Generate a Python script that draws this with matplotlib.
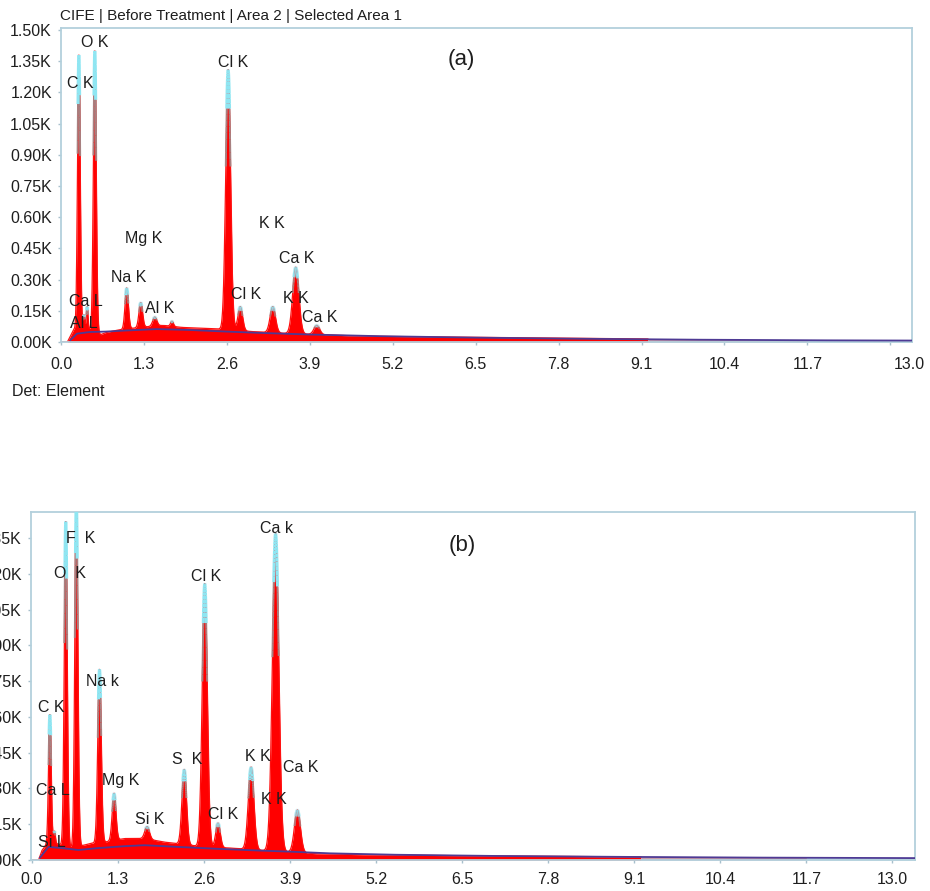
import numpy as np
import matplotlib
matplotlib.use("Agg")
import matplotlib.pyplot as plt
import matplotlib.transforms as mtransforms
from matplotlib.collections import LineCollection

plt.rcParams['font.family'] = ['Liberation Sans', 'DejaVu Sans']

# ---------------- axis data ----------------
x_ticks = [0.0, 1.3, 2.6, 3.9, 5.2, 6.5, 7.8, 9.1, 10.4, 11.7, 13.0]
x_tick_labels = ["0.0", "1.3", "2.6", "3.9", "5.2", "6.5", "7.8", "9.1", "10.4", "11.7", "13.0"]
y_ticks_a = [0.0, 0.15, 0.30, 0.45, 0.60, 0.75, 0.90, 1.05, 1.20, 1.35, 1.50]
y_tick_labels_a = ["0.00K", "0.15K", "0.30K", "0.45K", "0.60K", "0.75K", "0.90K", "1.05K", "1.20K", "1.35K", "1.50K"]
y_ticks_b = [0.0, 0.15, 0.30, 0.45, 0.60, 0.75, 0.90, 1.05, 1.20, 1.35]
y_tick_labels_b = ["0.00K", "0.15K", "0.30K", "0.45K", "0.60K", "0.75K", "0.90K", "1.05K", "1.20K", "1.35K"]

# ---------------- panel (a): before treatment ----------------
a_peak_energy = [0.28, 0.36, 0.41, 0.53, 1.03, 1.25, 1.47, 1.74, 2.62, 2.81, 3.32, 3.68, 4.01]
a_peak_top    = [1.38, 0.13, 0.17, 1.40, 0.26, 0.19, 0.12, 0.10, 1.31, 0.17, 0.17, 0.36, 0.08]
a_peak_sigma  = [0.021, 0.013, 0.013, 0.022, 0.026, 0.028, 0.032, 0.022, 0.038, 0.036, 0.042, 0.048, 0.045]
a_bg_energy = [0.10, 0.15, 0.20, 0.30, 0.55, 0.62, 0.70, 0.85, 1.0, 1.3, 1.6, 1.9, 2.2, 2.5, 2.8, 3.0, 3.5, 4.0, 4.5, 5.0, 6.0, 7.0, 8.0, 9.0, 10.0, 11.0, 12.0, 13.34]
a_bg_counts = [0.0, 0.03, 0.06, 0.065, 0.06, 0.035, 0.045, 0.055, 0.062, 0.072, 0.08, 0.07, 0.066, 0.062, 0.055, 0.05, 0.042, 0.036, 0.03, 0.027, 0.024, 0.021, 0.018, 0.015, 0.013, 0.011, 0.009, 0.008]
a_fit_energy = [0.15, 0.25, 0.45, 0.7, 1.0, 1.5, 2.0, 2.6, 3.2, 3.9, 5.0, 6.5, 8.0, 10.0, 12.0, 13.34]
a_fit_counts = [0.01, 0.04, 0.048, 0.05, 0.055, 0.062, 0.058, 0.05, 0.043, 0.036, 0.028, 0.021, 0.016, 0.011, 0.008, 0.007]
a_labels = ["O K", "C K", "Cl K", "Mg K", "K K", "Na K", "Ca K", "Ca L", "Cl K", "Al K", "K K", "Ca K", "Al L"]
a_label_pos = [(0.53, 1.44), (0.30, 1.245), (2.70, 1.346), (1.29, 0.50), (3.31, 0.572), (1.06, 0.3125),
               (3.70, 0.40), (0.39, 0.197), (2.90, 0.23), (1.55, 0.163), (3.68, 0.21), (4.06, 0.12), (0.36, 0.087)]

# ---------------- panel (b): after treatment ----------------
b_peak_energy = [0.27, 0.34, 0.51, 0.67, 1.02, 1.24, 1.74, 2.30, 2.61, 2.81, 3.31, 3.68, 4.01]
b_peak_top    = [0.61, 0.12, 1.42, 1.50, 0.80, 0.28, 0.14, 0.38, 1.16, 0.155, 0.39, 1.37, 0.21]
b_peak_sigma  = [0.02, 0.013, 0.022, 0.023, 0.026, 0.028, 0.035, 0.034, 0.038, 0.034, 0.042, 0.048, 0.045]
b_bg_energy = [0.10, 0.15, 0.22, 0.35, 0.50, 0.62, 0.75, 0.9, 1.1, 1.4, 1.7, 2.0, 2.3, 2.6, 3.0, 3.5, 4.0, 4.3, 5.0, 6.0, 7.0, 8.0, 9.0, 10.0, 11.0, 12.0, 13.34]
b_bg_counts = [0.0, 0.04, 0.065, 0.07, 0.06, 0.05, 0.06, 0.07, 0.075, 0.09, 0.09, 0.075, 0.065, 0.055, 0.05, 0.04, 0.032, 0.026, 0.022, 0.019, 0.017, 0.015, 0.013, 0.012, 0.011, 0.01, 0.009]
b_fit_energy = [0.12, 0.25, 0.45, 0.7, 1.0, 1.4, 1.7, 2.2, 2.8, 3.4, 3.9, 4.5, 5.5, 7.0, 9.0, 11.0, 13.34]
b_fit_counts = [0.01, 0.055, 0.05, 0.042, 0.05, 0.058, 0.062, 0.055, 0.047, 0.04, 0.035, 0.028, 0.022, 0.017, 0.013, 0.01, 0.008]
b_labels = ["F  K", "O  K", "Cl K", "Ca k", "Na k", "C K", "Ca L", "Mg K", "Si K", "S  K", "Cl K", "K K", "Ca K", "K K", "Si L"]
b_label_pos = [(0.74, 1.35), (0.574, 1.20), (2.63, 1.19), (3.69, 1.39), (1.07, 0.75), (0.29, 0.64), (0.317, 0.29),
               (1.34, 0.335), (1.78, 0.17), (2.34, 0.42), (2.89, 0.19), (3.41, 0.435), (4.06, 0.39), (3.66, 0.255), (0.30, 0.075)]

XMAX = 13.34
FRAME = '#b3d0dc'
TXT = '#1e1e1e'


def draw_spectrum(ax, bg_e, bg_c, pk_e, pk_top, pk_sig, fit_e, fit_c):
    e = np.linspace(0, XMAX, 8000)
    total = np.interp(e, bg_e, bg_c)
    frac = np.zeros_like(e)
    for pe, pt, ps in zip(pk_e, pk_top, pk_sig):
        amp = pt - np.interp(pe, bg_e, bg_c)
        g = amp * np.exp(-0.5 * ((e - pe) / ps) ** 2)
        total = total + g
        frac = np.maximum(frac, g / amp)
    red = e <= 9.2
    mid = (e >= 9.2) & (e <= 11.7)
    tail = e >= 11.7
    ax.fill_between(e, 0, total, where=red, color='#ff0000', lw=0, zorder=2)
    ax.plot(e[red], total[red], color='#ff1010', lw=0.9, zorder=2)
    ax.fill_between(e, 0, total, where=mid, color='#c89aa8', lw=0, zorder=2)
    ax.fill_between(e, 0, total, where=tail, color='#bfe8f4', lw=0, zorder=2)
    # peak tips: grey transition then cyan
    pts = np.column_stack([e, total])
    segs = np.stack([pts[:-1], pts[1:]], axis=1)
    f = 0.5 * (frac[:-1] + frac[1:])
    grey = (f > 0.62) & (f <= 0.84)
    cyan = f > 0.84
    ax.add_collection(LineCollection(segs[grey], colors='#a88080', linewidths=1.4, zorder=3))
    ax.add_collection(LineCollection(segs[cyan], colors='#8fe6f2', linewidths=2.2, zorder=3))
    ax.plot(fit_e, fit_c, color='#4e3a94', lw=1.3, zorder=4)


def style_axes(ax, yt, ytl, ymax, xpad):
    ax.set_xlim(0, XMAX)
    ax.set_ylim(0, ymax)
    ax.set_xticks(x_ticks)
    ax.set_xticklabels(x_tick_labels)
    ax.set_yticks(yt)
    ax.set_yticklabels(ytl)
    for s in ax.spines.values():
        s.set_color(FRAME)
        s.set_linewidth(1.3)
    ax.tick_params(axis='both', direction='out', length=2.5, width=1, color='#a8c0cc',
                   labelsize=11.5, labelcolor=TXT)
    ax.tick_params(axis='y', pad=4)
    ax.tick_params(axis='x', pad=xpad)


fig = plt.figure(figsize=(9.3, 8.91), dpi=100)
W, H = 930.0, 891.0

axA = fig.add_axes([61 / W, 1 - 342 / H, 851 / W, 314 / H])
draw_spectrum(axA, a_bg_energy, a_bg_counts, a_peak_energy, a_peak_top, a_peak_sigma, a_fit_energy, a_fit_counts)
style_axes(axA, y_ticks_a, y_tick_labels_a, 1.51, 8)
for t, (lx, ly) in zip(a_labels, a_label_pos):
    axA.text(lx, ly, t, ha='center', va='center', fontsize=11.5, color=TXT, zorder=6)
axA.text(6.27, 1.36, "(a)", ha='center', va='center', fontsize=16, color=TXT, zorder=6)
# last x label of panel (a) sits right of its tick
last = axA.get_xticklabels()[-1]
last.set_transform(last.get_transform() + mtransforms.ScaledTranslation(19 / 100, 0, fig.dpi_scale_trans))

axB = fig.add_axes([31 / W, 1 - 860 / H, 884 / W, 348 / H])
draw_spectrum(axB, b_bg_energy, b_bg_counts, b_peak_energy, b_peak_top, b_peak_sigma, b_fit_energy, b_fit_counts)
style_axes(axB, y_ticks_b, y_tick_labels_b, 1.46, 6)
axB.set_xlim(-0.015, XMAX)
for t, (lx, ly) in zip(b_labels, b_label_pos):
    axB.text(lx, ly, t, ha='center', va='center', fontsize=11.5, color=TXT, zorder=6)
axB.text(6.50, 1.32, "(b)", ha='center', va='center', fontsize=16, color=TXT, zorder=6)

fig.text(60 / W, 1 - 16 / H, "CIFE | Before Treatment | Area 2 | Selected Area 1",
         ha='left', va='center', fontsize=11, color=TXT)
fig.text(12 / W, 1 - 392 / H, "Det: Element", ha='left', va='center', fontsize=11.5, color=TXT)

fig.savefig("out.png", dpi=100)
